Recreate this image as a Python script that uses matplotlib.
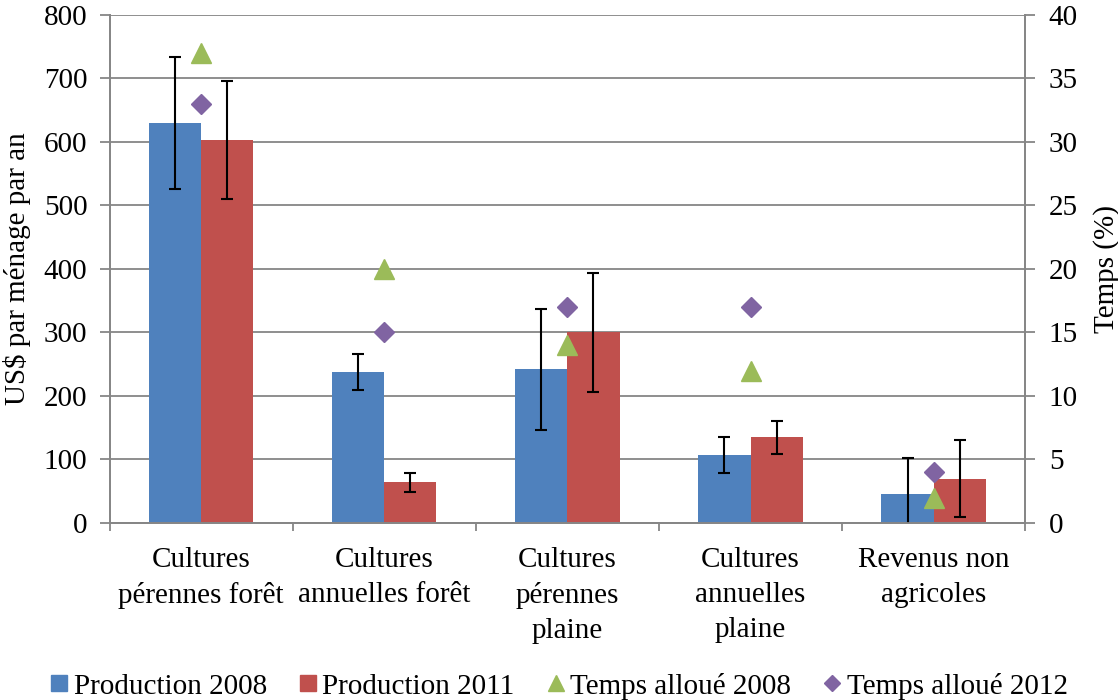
import matplotlib
matplotlib.use("Agg")
import matplotlib.pyplot as plt
from matplotlib.lines import Line2D
import numpy as np

plt.rcParams['font.family'] = ['Liberation Serif', 'DejaVu Serif']

categories = ["Cultures\npérennes forêt", "Cultures\nannuelles forêt",
              "Cultures\npérennes\nplaine", "Cultures\nannuelles\nplaine",
              "Revenus non\nagricoles"]
prod_2008 = [630, 238, 242, 107, 45]
prod_2008_err = [104, 28, 95, 29, 57]
prod_2011 = [603, 64, 300, 135, 70]
prod_2011_err = [93, 15, 94, 26, 60]
temps_2008 = [37, 20, 14, 12, 2]
temps_2012 = [33, 15, 17, 17, 4]

c_blue = '#4F81BD'
c_red = '#C0504D'
c_green = '#9BBB59'
c_purple = '#8064A2'
gray = '#868686'
fs = 21

fig = plt.figure(figsize=(11.18, 7.0), dpi=100)
ax = fig.add_axes([0.098, 0.2529, 0.819, 0.7257])
x = np.arange(len(categories))
w = 0.285

ax.bar(x - w/2, prod_2008, w, color=c_blue, zorder=2)
ax.bar(x + w/2, prod_2011, w, color=c_red, zorder=2)
ax.errorbar(x - w/2, prod_2008, yerr=prod_2008_err, fmt='none', ecolor='black',
            elinewidth=1.5, capsize=4.5, capthick=1.5, zorder=3)
ax.errorbar(x + w/2, prod_2011, yerr=prod_2011_err, fmt='none', ecolor='black',
            elinewidth=1.5, capsize=4.5, capthick=1.5, zorder=3)

ax.set_xlim(-0.5, len(categories) - 0.5)
ax.set_ylim(0, 800)
ax.set_yticks(range(0, 801, 100))
ax.yaxis.grid(True, color=gray, linewidth=1.3, zorder=0)
ax.set_axisbelow(True)
ax.set_xticks(np.arange(-0.5, len(categories), 1))
ax.set_xticklabels([])
ax.set_xticks(x, minor=True)
ax.set_xticklabels(categories, minor=True, fontsize=fs, linespacing=1.45)
ax.tick_params(axis='x', which='minor', length=0, pad=17)
ax.tick_params(axis='x', which='major', length=6, color=gray, width=1.3)
ax.tick_params(axis='y', length=7, color=gray, width=1.3, labelsize=fs, pad=9)
for s in ['left', 'bottom', 'right']:
    ax.spines[s].set_color(gray)
    ax.spines[s].set_linewidth(1.3)
ax.spines['top'].set_visible(False)
ax.set_ylabel("US$ par ménage par an", fontsize=fs)
ax.yaxis.set_label_coords(-0.086, 0.5)

ax2 = ax.twinx()
ax2.set_ylim(0, 40)
ax2.set_yticks(range(0, 41, 5))
ax2.plot(x, temps_2008, linestyle='none', marker='^', markersize=15, color=c_green, zorder=4)
ax2.plot(x, temps_2012, linestyle='none', marker='D', markersize=10, color=c_purple, zorder=4)
ax2.tick_params(axis='y', length=7, color=gray, width=1.3, labelsize=fs, pad=10)
for s in ['left', 'bottom', 'right']:
    ax2.spines[s].set_color(gray)
    ax2.spines[s].set_linewidth(1.3)
ax2.spines['top'].set_visible(False)
ax2.set_ylabel("Temps (%)", fontsize=fs)
ax2.yaxis.set_label_coords(1.074, 0.5)

handles = [
    Line2D([], [], linestyle='none', marker='s', markersize=11, color=c_blue),
    Line2D([], [], linestyle='none', marker='s', markersize=11, color=c_red),
    Line2D([], [], linestyle='none', marker='^', markersize=12, color=c_green),
    Line2D([], [], linestyle='none', marker='D', markersize=8.5, color=c_purple),
]
labels = ["Production 2008", "Production 2011", "Temps alloué 2008", "Temps alloué 2012"]
fig.legend(handles, labels, loc='center', bbox_to_anchor=(0.5, 1 - 686/700), ncol=4,
           frameon=False, fontsize=fs, handlelength=0.6, handletextpad=0.2,
           columnspacing=1.1, borderaxespad=0)

fig.savefig("out.png", dpi=100)
